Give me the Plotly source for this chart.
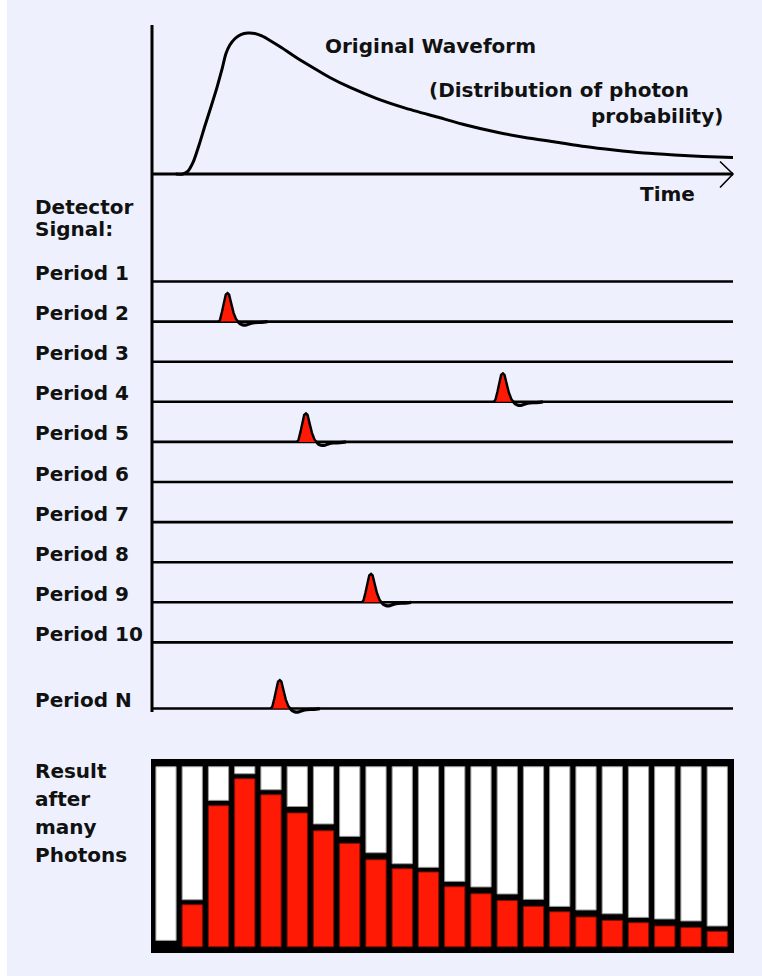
import plotly.graph_objects as go

# ---------------- data ----------------
# Original waveform (time in % of the window, amplitude in % of the peak)
wave_t = [4.1, 5.3, 6.2, 7.1, 8.1, 9.1, 10.2, 11.2, 12.1, 12.7, 13.4, 14.3, 15.3, 16.5, 17.7,
          18.9, 20.3, 22.4, 25.1, 28.1, 30.6, 34.1, 38.7, 43.6, 49.1, 54.0, 59.2, 64.2,
          69.4, 74.5, 79.5, 84.7, 89.9, 94.8, 100.0]
wave_amp = [0.0, 0.0, 2.1, 8.6, 20.7, 34.3, 48.6, 62.1, 75.7, 85.7, 92.1, 96.8, 99.6, 100.7,
            100.4, 98.6, 95.4, 90.0, 82.5, 75.0, 68.9, 61.8, 53.9, 47.1, 40.7, 35.0, 30.0,
            26.1, 22.9, 19.6, 17.1, 15.0, 13.6, 12.5, 11.8]

period_labels = ["Period 1", "Period 2", "Period 3", "Period 4", "Period 5", "Period 6",
                 "Period 7", "Period 8", "Period 9", "Period 10", "Period N"]
period_rows = [1, 2, 3, 4, 5, 6, 7, 8, 9, 10, 11.65]

pulse_periods = ["Period 2", "Period 4", "Period 5", "Period 9", "Period N"]
pulse_times = [13.0, 60.4, 26.5, 37.7, 22.0]

bar_index = list(range(22))
red_share = [0, 23.3, 78.3, 93.3, 84.4, 74.3, 64.4, 57.4, 48.3, 43.3, 41.5,
             33.3, 29.4, 25.6, 22.4, 19.4, 16.5, 14.6, 13.3, 11.5, 10.6, 8.5]
white_floor = [3.5, 26.1, 81.3, 96.1, 87.2, 77.9, 68.2, 61.3, 52.2, 46.1, 44.1,
               36.3, 33.2, 29.3, 26.3, 22.4, 20.4, 18.3, 16.3, 15.4, 14.3, 11.5]

# ---------------- layout geometry (pixels) ----------------
W, H = 762, 976
BG = "#eef1fd"
RED = "#ff1a05"
INK = "#111111"
FONT = dict(family="DejaVu Sans", size=20, color=INK, weight="bold")

T0_PX, PX_PER_T = 152, 5.81
AMP0_PX, PX_PER_AMP = 174, 1.4
ROW1_PX, PX_PER_ROW = 281.5, 40.1
BAR0_PX, PX_PER_BAR = 166, 26.25
BASE_PX, PX_PER_SHARE = 946.7, 1.8


def fx(p):
    return p / W


def fy(p):
    return 1 - p / H


def t_of(px):
    return (px - T0_PX) / PX_PER_T


def amp_of(py):
    return (AMP0_PX - py) / PX_PER_AMP


def row_of(py):
    return 1 + (py - ROW1_PX) / PX_PER_ROW


# pulse glyph (style): offsets in pixels from the peak position
PULSE_UP = [(-9, 0), (-7.5, 2), (-5.5, 10), (-3.5, 21), (-1.8, 27), (0, 28.5),
            (1.6, 27), (3.5, 19), (6, 9), (8.5, 2.5), (10.5, 0)]
PULSE_DOWN = [(10.5, 0), (12.5, -2.2), (15, -3.3), (19, -3.3), (23, -1.8),
              (27, -1), (34, -0.8), (40, 0)]

fig = go.Figure()

# waveform
fig.add_trace(go.Scatter(x=wave_t, y=wave_amp, mode="lines", xaxis="x", yaxis="y",
                         line=dict(color="black", width=3, shape="spline", smoothing=0.6),
                         hoverinfo="skip"))

# period baselines
for lab, r in zip(period_labels, period_rows):
    fig.add_trace(go.Scatter(x=[0, 100], y=[r, r], mode="lines", xaxis="x", yaxis="y2",
                             line=dict(color="black", width=2.6), hoverinfo="skip"))

# pulses
row_lookup = dict(zip(period_labels, period_rows))
for lab, t in zip(pulse_periods, pulse_times):
    r = row_lookup[lab]
    xs2 = [t + dx / PX_PER_T for dx, dy in PULSE_DOWN]
    ys2 = [r - dy / PX_PER_ROW for dx, dy in PULSE_DOWN]
    fig.add_trace(go.Scatter(x=xs2, y=ys2, mode="lines", xaxis="x", yaxis="y2",
                             line=dict(color="black", width=3.2, shape="spline"),
                             hoverinfo="skip"))
    xs = [t + dx / PX_PER_T for dx, dy in PULSE_UP]
    ys = [r - dy / PX_PER_ROW for dx, dy in PULSE_UP]
    fig.add_trace(go.Scatter(x=xs, y=ys, mode="lines", fill="toself", fillcolor=RED,
                             xaxis="x", yaxis="y2",
                             line=dict(color="black", width=2.4), hoverinfo="skip"))

# histogram bars
fig.add_trace(go.Bar(x=bar_index, y=[100 - w for w in white_floor], base=white_floor,
                     xaxis="x3", yaxis="y3", width=0.77, marker=dict(color="white",
                     line=dict(color="#9a9a9a", width=1)), hoverinfo="skip"))
fig.add_trace(go.Bar(x=bar_index, y=red_share, base=[0] * len(red_share),
                     xaxis="x3", yaxis="y3", width=0.77,
                     marker=dict(color=RED, line=dict(color="#8a0c00",
                                 width=[1 if v > 0 else 0 for v in red_share])),
                     hoverinfo="skip"))

hidden = dict(visible=False, fixedrange=True)
fig.update_layout(
    width=W, height=H, margin=dict(l=0, r=0, t=0, b=0),
    paper_bgcolor=BG, plot_bgcolor=BG, showlegend=False, barmode="overlay",
    hovermode=False,
    xaxis=dict(domain=[fx(140), fx(745)], range=[t_of(140), t_of(745)], **hidden),
    yaxis=dict(domain=[fy(192), fy(20)], range=[amp_of(192), amp_of(20)], **hidden),
    yaxis2=dict(domain=[fy(716), fy(245)], range=[row_of(716), row_of(245)],
                anchor="x", **hidden),
    xaxis3=dict(domain=[fx(151), fx(734)],
                range=[(151 - BAR0_PX) / PX_PER_BAR, (734 - BAR0_PX) / PX_PER_BAR],
                anchor="y3", **hidden),
    yaxis3=dict(domain=[fy(953), fy(759)],
                range=[(BASE_PX - 953) / PX_PER_SHARE, (BASE_PX - 759) / PX_PER_SHARE],
                anchor="x3", **hidden),
)

shapes = [
    # thin white strip at the left page edge
    dict(type="rect", xref="paper", yref="paper", x0=0, x1=fx(7), y0=0, y1=1,
         fillcolor="white", line=dict(width=0), layer="below"),
    # black frame of the histogram
    dict(type="rect", xref="x3 domain", yref="y3 domain", x0=0, x1=1, y0=0, y1=1,
         fillcolor="black", line=dict(width=0), layer="below"),
    # vertical axis
    dict(type="line", xref="x", yref="paper", x0=0, x1=0, y0=fy(712), y1=fy(25),
         line=dict(color="black", width=3)),
    # time axis
    dict(type="line", xref="x", yref="y", x0=0, x1=t_of(733), y0=0, y1=0,
         line=dict(color="black", width=3)),
    dict(type="path", xref="x", yref="y",
         path=f"M {t_of(720)},{amp_of(161.5)} L {t_of(733)},0 L {t_of(720)},{amp_of(187.5)}",
         line=dict(color="black", width=1.6)),
]
fig.update_layout(shapes=shapes)

ann = []


def text(s, xpx, ypx, anchor="left"):
    ann.append(dict(text=s, xref="paper", yref="paper", x=fx(xpx), y=fy(ypx),
                    xanchor=anchor, yanchor="middle", showarrow=False, font=FONT))


text("Original Waveform", 323, 46)
text("(Distribution of photon", 691, 90, "right")
text("probability)", 725, 116, "right")
text("Time", 697, 194, "right")
text("Detector", 33, 207)
text("Signal:", 33, 229)
for lab, r in zip(period_labels, period_rows):
    ann.append(dict(text=lab, xref="paper", yref="y2", x=fx(33), y=r, yshift=8.5,
                    xanchor="left", yanchor="middle", showarrow=False, font=FONT))
for s, ypx in zip(["Result", "after", "many", "Photons"], [770.5, 798.7, 826.6, 854.5]):
    text(s, 33, ypx)
fig.update_layout(annotations=ann)

fig.write_html("out.html", config={"displayModeBar": False, "staticPlot": True},
               post_script="document.body.style.margin='0';document.body.style.overflow='hidden';")
